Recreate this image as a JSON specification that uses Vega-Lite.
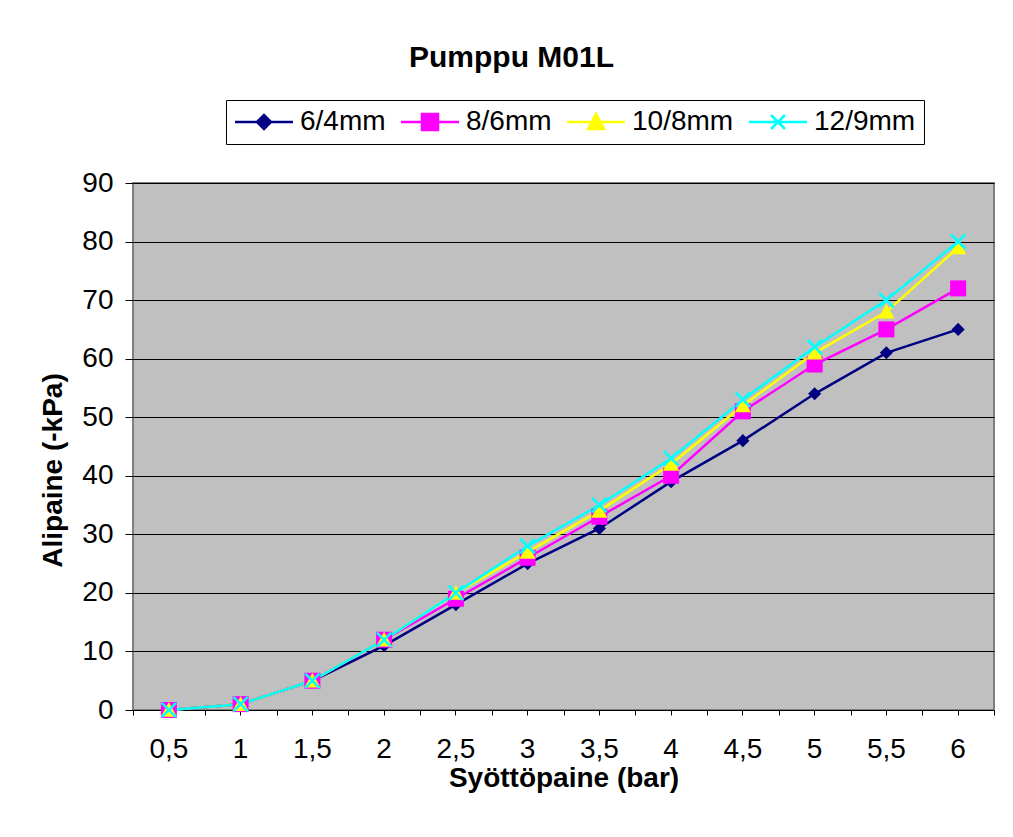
{
  "$schema": "https://vega.github.io/schema/vega-lite/v6.json",
  "width": 861,
  "height": 527,
  "autosize": {"type": "none"},
  "padding": {"left": 133, "top": 183, "right": 19, "bottom": 127},
  "background": "white",
  "title": {
    "text": "Pumppu M01L",
    "font": "Liberation Sans",
    "fontSize": 30,
    "fontWeight": "bold",
    "color": "black",
    "anchor": "middle",
    "dx": -52,
    "baseline": "alphabetic",
    "offset": 3
  },
  "config": {
    "view": {"fill": "#C0C0C0", "stroke": "#808080", "strokeWidth": 2},
    "font": "Liberation Sans",
    "axis": {
      "labelFont": "Liberation Sans",
      "labelFontSize": 28,
      "labelColor": "black",
      "titleFont": "Liberation Sans",
      "titleFontSize": 28,
      "titleFontWeight": "bold",
      "titleColor": "black",
      "tickColor": "black",
      "domain": false
    }
  },
  "data": {
    "values": [
      {"x": 0.5, "s": "6/4mm", "y": 0}, {"x": 1, "s": "6/4mm", "y": 1}, {"x": 1.5, "s": "6/4mm", "y": 5}, {"x": 2, "s": "6/4mm", "y": 11},
      {"x": 2.5, "s": "6/4mm", "y": 18}, {"x": 3, "s": "6/4mm", "y": 25}, {"x": 3.5, "s": "6/4mm", "y": 31}, {"x": 4, "s": "6/4mm", "y": 39},
      {"x": 4.5, "s": "6/4mm", "y": 46}, {"x": 5, "s": "6/4mm", "y": 54}, {"x": 5.5, "s": "6/4mm", "y": 61}, {"x": 6, "s": "6/4mm", "y": 65},
      {"x": 0.5, "s": "8/6mm", "y": 0}, {"x": 1, "s": "8/6mm", "y": 1}, {"x": 1.5, "s": "8/6mm", "y": 5}, {"x": 2, "s": "8/6mm", "y": 12},
      {"x": 2.5, "s": "8/6mm", "y": 19}, {"x": 3, "s": "8/6mm", "y": 26}, {"x": 3.5, "s": "8/6mm", "y": 33}, {"x": 4, "s": "8/6mm", "y": 40},
      {"x": 4.5, "s": "8/6mm", "y": 51}, {"x": 5, "s": "8/6mm", "y": 59}, {"x": 5.5, "s": "8/6mm", "y": 65}, {"x": 6, "s": "8/6mm", "y": 72},
      {"x": 0.5, "s": "10/8mm", "y": 0}, {"x": 1, "s": "10/8mm", "y": 1}, {"x": 1.5, "s": "10/8mm", "y": 5}, {"x": 2, "s": "10/8mm", "y": 12},
      {"x": 2.5, "s": "10/8mm", "y": 20}, {"x": 3, "s": "10/8mm", "y": 27}, {"x": 3.5, "s": "10/8mm", "y": 34}, {"x": 4, "s": "10/8mm", "y": 42},
      {"x": 4.5, "s": "10/8mm", "y": 52}, {"x": 5, "s": "10/8mm", "y": 61}, {"x": 5.5, "s": "10/8mm", "y": 68}, {"x": 6, "s": "10/8mm", "y": 79},
      {"x": 0.5, "s": "12/9mm", "y": 0}, {"x": 1, "s": "12/9mm", "y": 1}, {"x": 1.5, "s": "12/9mm", "y": 5}, {"x": 2, "s": "12/9mm", "y": 12},
      {"x": 2.5, "s": "12/9mm", "y": 20}, {"x": 3, "s": "12/9mm", "y": 28}, {"x": 3.5, "s": "12/9mm", "y": 35}, {"x": 4, "s": "12/9mm", "y": 43},
      {"x": 4.5, "s": "12/9mm", "y": 53}, {"x": 5, "s": "12/9mm", "y": 62}, {"x": 5.5, "s": "12/9mm", "y": 70}, {"x": 6, "s": "12/9mm", "y": 80}
    ]
  },
  "resolve": {"axis": {"x": "independent"}},
  "layer": [
    {
      "mark": {"type": "line", "strokeWidth": 2.5},
      "encoding": {
        "x": {
          "field": "x", "type": "ordinal", "bandPosition": 0.5,
          "scale": {"type": "band", "paddingInner": 0, "paddingOuter": 0},
          "axis": {
            "orient": "bottom",
            "title": "Syöttöpaine (bar)",
            "labelExpr": "replace(datum.label, '.', ',')",
            "labelAngle": 0,
            "labelBaseline": "alphabetic",
            "labelPadding": 42,
            "tickSize": 5,
            "tickBand": "center",
            "grid": false,
            "titleBaseline": "alphabetic",
            "titleY": 76
          }
        },
        "y": {
          "field": "y", "type": "quantitative",
          "scale": {"domain": [0, 90], "nice": false},
          "axis": {
            "title": "Alipaine (-kPa)",
            "values": [0, 10, 20, 30, 40, 50, 60, 70, 80, 90],
            "tickSize": 8,
            "labelPadding": 12,
            "labelBaseline": "middle",
            "gridColor": "black",
            "gridWidth": 1,
            "gridOpacity": 1,
            "titleAngle": -90,
            "titleAlign": "center",
            "titleBaseline": "middle",
            "titleX": -80,
            "titleY": 287
          }
        },
        "color": {
          "field": "s", "type": "nominal",
          "scale": {"domain": ["6/4mm", "8/6mm", "10/8mm", "12/9mm"], "range": ["#000080", "#FF00FF", "#FFFF00", "#00FFFF"]},
          "legend": {
            "orient": "none",
            "legendX": 93,
            "legendY": -83,
            "direction": "horizontal",
            "title": null,
            "labelFont": "Liberation Sans",
            "labelFontSize": 28,
            "labelColor": "black",
            "labelOffset": 38,
            "columnPadding": 10,
            "symbolSize": 400,
            "symbolStrokeWidth": 2,
            "padding": 8,
            "strokeColor": "black",
            "fillColor": "white",
            "encode": {
              "symbols": {
                "update": {
                  "shape": {"signal": "datum.value === '6/4mm' ? 'M-1.3,0H4.5M0.9,0L1.6,-0.7L2.3,0L1.6,0.7Z' : datum.value === '8/6mm' ? 'M-1.3,0H4.5M0.8,-0.8H2.4V0.8H0.8Z' : datum.value === '10/8mm' ? 'M-1.3,0H4.5M0.8,0.7L2.4,0.7L1.6,-0.8Z' : 'M-1.3,0H4.5M0.9,-0.7L2.3,0.7M0.9,0.7L2.3,-0.7'"},
                  "stroke": {"signal": "datum.value === '6/4mm' ? '#000080' : datum.value === '8/6mm' ? '#FF00FF' : datum.value === '10/8mm' ? '#FFFF00' : '#00FFFF'"},
                  "fill": {"signal": "datum.value === '6/4mm' ? '#000080' : datum.value === '8/6mm' ? '#FF00FF' : datum.value === '10/8mm' ? '#FFFF00' : 'transparent'"},
                  "strokeWidth": {"value": 2.5},
                  "opacity": {"value": 1}
                }
              }
            }
          }
        }
      }
    },
    {
      "transform": [{"filter": "datum.s === '6/4mm'"}],
      "mark": {"type": "point", "filled": true, "opacity": 1, "size": 256, "shape": "M-0.82,0L0,-0.82L0.82,0L0,0.82Z"},
      "encoding": {
        "x": {
          "field": "x", "type": "ordinal", "bandPosition": 0.5,
          "axis": {"orient": "bottom", "labels": false, "title": null, "tickSize": 5, "tickBand": "extent", "grid": false}
        },
        "y": {"field": "y", "type": "quantitative"},
        "color": {"field": "s", "type": "nominal", "legend": null}
      }
    },
    {
      "transform": [{"filter": "datum.s === '8/6mm'"}],
      "mark": {"type": "point", "filled": true, "opacity": 1, "size": 256, "shape": "M-1,-1H1V1H-1Z"},
      "encoding": {
        "x": {"field": "x", "type": "ordinal", "bandPosition": 0.5, "axis": null},
        "y": {"field": "y", "type": "quantitative"},
        "color": {"field": "s", "type": "nominal", "legend": null}
      }
    },
    {
      "transform": [{"filter": "datum.s === '10/8mm'"}],
      "mark": {"type": "point", "filled": true, "opacity": 1, "size": 256, "shape": "M-1,0.85L1,0.85L0,-1Z"},
      "encoding": {
        "x": {"field": "x", "type": "ordinal", "bandPosition": 0.5, "axis": null},
        "y": {"field": "y", "type": "quantitative"},
        "color": {"field": "s", "type": "nominal", "legend": null}
      }
    },
    {
      "transform": [{"filter": "datum.s === '12/9mm'"}],
      "mark": {"type": "point", "filled": false, "opacity": 1, "size": 256, "strokeWidth": 2.5, "shape": "M-0.9,-0.9L0.9,0.9M-0.9,0.9L0.9,-0.9"},
      "encoding": {
        "x": {"field": "x", "type": "ordinal", "bandPosition": 0.5, "axis": null},
        "y": {"field": "y", "type": "quantitative"},
        "color": {"field": "s", "type": "nominal", "legend": null}
      }
    }
  ]
}
